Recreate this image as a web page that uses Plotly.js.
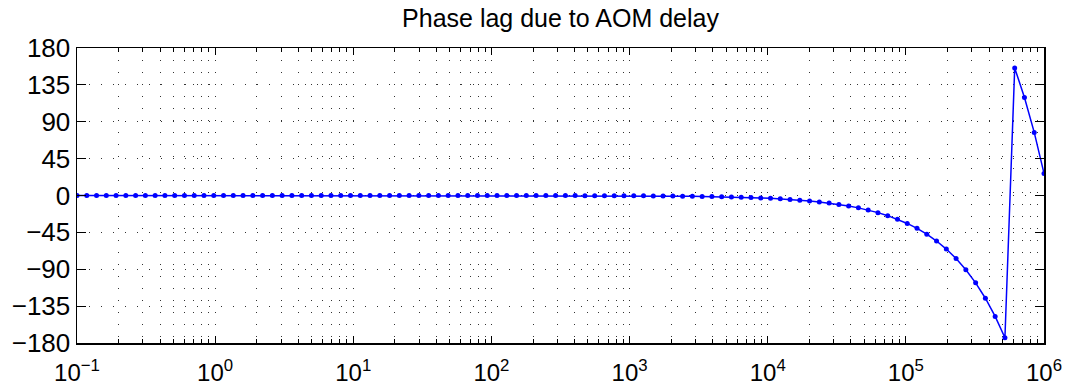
<!DOCTYPE html>
<html>
<head>
<meta charset="utf-8">
<script src="https://cdn.plot.ly/plotly-3.0.1.min.js"></script>
<style>html,body{margin:0;padding:0;background:#fff;}#chart{width:1066px;height:389px;}</style>
</head>
<body>
<div id="chart"></div>
<script>
// Frequency points (Hz)
const freqHz = [
  0.1, 0.117681, 0.138489, 0.162975, 0.19179, 0.225702, 0.265609, 0.312572, 0.367838, 0.432876,
  0.509414, 0.599484, 0.70548, 0.830218, 0.97701, 1.14973, 1.35307, 1.59228, 1.87381, 2.20513,
  2.59502, 3.05386, 3.59381, 4.22924, 4.97702, 5.85703, 6.89261, 8.11131, 9.54548, 11.2332,
  13.2194, 15.5567, 18.3074, 21.5443, 25.3537, 29.8365, 35.112, 41.3201, 48.626, 57.2237,
  67.3415, 79.2483, 93.2603, 109.75, 129.155, 151.991, 178.865, 210.488, 247.708, 291.505,
  343.049, 403.702, 475.081, 559.081, 657.933, 774.264, 911.163, 1072.27, 1261.85, 1484.97,
  1747.51, 2056.5, 2420.13, 2848.04, 3351.6, 3944.21, 4641.59, 5462.28, 6428.07, 7564.63,
  8902.15, 10476.2, 12328.5, 14508.2, 17073.5, 20092.3, 23644.9, 27825.6, 32745.5, 38535.3,
  45348.8, 53367, 62802.9, 73907.2, 86975, 102353, 120450, 141747, 166809, 196304,
  231013, 271858, 319927, 376494, 443062, 521401, 613591, 722081, 849754, 1000000
];
// Phase (degrees)
const phaseDeg = [
  -0.0000333, -0.0000392, -0.0000461, -0.0000543, -0.0000639, -0.0000752, -0.0000884, -0.000104, -0.000122, -0.000144,
  -0.00017, -0.0002, -0.000235, -0.000276, -0.000325, -0.000383, -0.000451, -0.00053, -0.000624, -0.000734,
  -0.000864, -0.00102, -0.0012, -0.00141, -0.00166, -0.00195, -0.0023, -0.0027, -0.00318, -0.00374,
  -0.0044, -0.00518, -0.0061, -0.00717, -0.00844, -0.00994, -0.0117, -0.0138, -0.0162, -0.0191,
  -0.0224, -0.0264, -0.0311, -0.0365, -0.043, -0.0506, -0.0596, -0.0701, -0.0825, -0.0971,
  -0.114, -0.134, -0.158, -0.186, -0.219, -0.258, -0.303, -0.357, -0.42, -0.494,
  -0.582, -0.685, -0.806, -0.948, -1.116, -1.313, -1.546, -1.819, -2.141, -2.519,
  -2.964, -3.489, -4.105, -4.831, -5.686, -6.691, -7.874, -9.266, -10.904, -12.832,
  -15.101, -17.771, -20.913, -24.611, -28.963, -34.084, -40.11, -47.202, -55.547, -65.369,
  -76.927, -90.529, -106.536, -125.373, -147.54, -173.627, 155.674, 119.547, 77.032, 27.0
];
const xTickVals = [0.1, 1, 10, 100, 1000, 10000, 100000, 1000000];
const xTickText = ['10<sup>\u22121</sup>', '10<sup>0</sup>', '10<sup>1</sup>', '10<sup>2</sup>',
                   '10<sup>3</sup>', '10<sup>4</sup>', '10<sup>5</sup>', '10<sup>6</sup>'];
const yTickVals = [-180, -135, -90, -45, 0, 45, 90, 135, 180];
const chartTitle = 'Phase lag due to AOM delay';

// minor tick positions 2..9 per decade
const minorVals = [];
for (let e = -1; e < 6; e++) for (let m = 2; m <= 9; m++) minorVals.push(m * Math.pow(10, e));

const FONT = 'Liberation Sans, Arial, Helvetica, sans-serif';
const gridDash = '1px,11px';

const trace = {
  x: freqHz, y: phaseDeg, type: 'scatter', mode: 'lines+markers',
  line: {color: '#0000ff', width: 1.5},
  marker: {color: '#0000ff', size: 5},
  hoverinfo: 'x+y', showlegend: false, cliponaxis: true
};

const layout = {
  width: 1066, height: 389,
  margin: {l: 77, r: 22, t: 48, b: 46, pad: 0},
  paper_bgcolor: '#fff', plot_bgcolor: '#fff',
  font: {family: FONT, size: 24, color: '#000'},
  title: {text: chartTitle, font: {family: FONT, size: 25, color: '#000'},
          xref: 'paper', x: 0.5, xanchor: 'center', yref: 'container', y: 0.953, yanchor: 'middle'},
  xaxis: {
    type: 'log', range: [-1, 6], autorange: false,
    tickmode: 'array', tickvals: xTickVals, ticktext: xTickText,
    ticks: 'inside', ticklen: 7, tickwidth: 1, tickcolor: '#000',
    showline: true, linecolor: '#000', linewidth: 1.5, mirror: 'ticks',
    showgrid: true, gridcolor: '#333', gridwidth: 1, griddash: gridDash,
    zeroline: false, ticklabelstandoff: 8,
    tickfont: {family: FONT, size: 24, color: '#000'},
    minor: {tickmode: 'array', tickvals: minorVals, ticks: 'inside', ticklen: 4, tickcolor: '#000', tickwidth: 1,
            showgrid: true, gridcolor: '#333', gridwidth: 1, griddash: gridDash}
  },
  yaxis: {
    range: [-180, 180], autorange: false,
    tickmode: 'array', tickvals: yTickVals,
    ticks: 'inside', ticklen: 9, tickwidth: 1, tickcolor: '#000',
    showline: true, linecolor: '#000', linewidth: 1.5, mirror: 'ticks',
    showgrid: true, gridcolor: '#333', gridwidth: 1, griddash: gridDash,
    zeroline: false,
    tickfont: {family: FONT, size: 26, color: '#000'}
  }
};

Plotly.newPlot('chart', [trace], layout, {displayModeBar: false, staticPlot: true});
</script>
</body>
</html>
